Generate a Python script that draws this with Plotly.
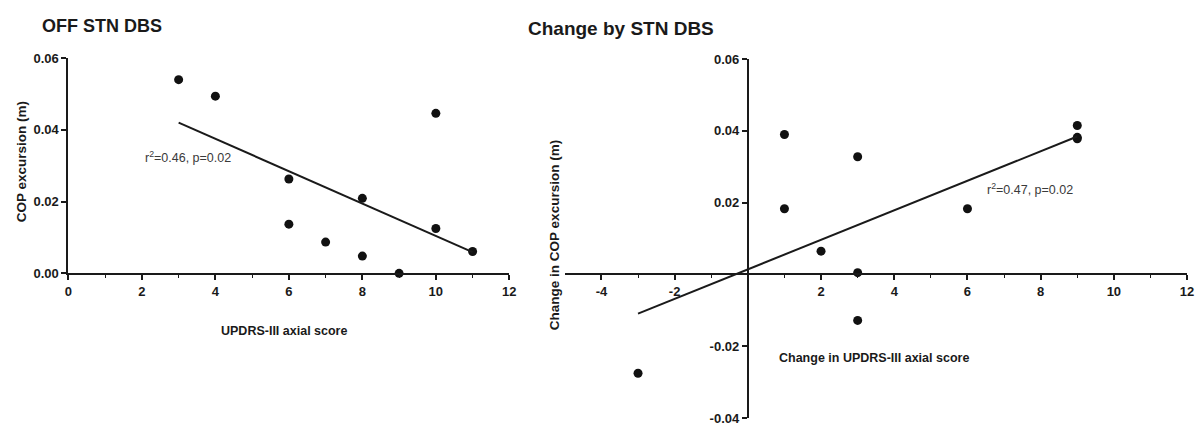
import numpy as np
import plotly.graph_objects as go

W, H = 1203, 428

# ---- data ----
off_updrs = [3, 4, 6, 6, 7, 8, 8, 9, 10, 10, 11]
off_cop = [0.0540, 0.0494, 0.0263, 0.0137, 0.0087, 0.0209, 0.0048, 0.0000, 0.0446, 0.0125, 0.0061]

chg_updrs = [-3, 1, 1, 2, 3, 3, 3, 6, 9, 9, 9]
chg_cop = [-0.0275, 0.0390, 0.0183, 0.0065, 0.0328, 0.0005, -0.0128, 0.0183, 0.0415, 0.0382, 0.0378]

left_xticks = [0, 2, 4, 6, 8, 10, 12]
left_xminor = [1, 3, 5, 7, 9, 11]
left_yticks = [0.00, 0.02, 0.04, 0.06]
right_xticks = [-4, -2, 2, 4, 6, 8, 10, 12]
right_xminor = [-3, -1, 1, 3, 5, 7, 9, 11]
right_yticks = [-0.04, -0.02, 0.02, 0.04, 0.06]

left_stats = "r<sup>2</sup>=0.46, p=0.02"
right_stats = "r<sup>2</sup>=0.47, p=0.02"


def px(x):
    return x / W


def py(y):
    return 1 - y / H


INK = "#1a1a1a"
FONT = "Liberation Sans, Arial, sans-serif"


def fit_line(xs, ys):
    xs = np.asarray(xs, float)
    ys = np.asarray(ys, float)
    m, b = np.polyfit(xs, ys, 1)
    xl = np.array([xs.min(), xs.max()])
    return xl, m * xl + b


fig = go.Figure()

marker = dict(size=9, color="#111111")

# left panel
fig.add_trace(go.Scatter(x=off_updrs, y=off_cop, mode="markers", marker=marker,
                         xaxis="x", yaxis="y", cliponaxis=False, showlegend=False))
lx, ly = fit_line(off_updrs, off_cop)
fig.add_trace(go.Scatter(x=lx, y=ly, mode="lines", line=dict(color=INK, width=2),
                         xaxis="x", yaxis="y", cliponaxis=False, showlegend=False))

# right panel
fig.add_trace(go.Scatter(x=chg_updrs, y=chg_cop, mode="markers", marker=marker,
                         xaxis="x2", yaxis="y2", cliponaxis=False, showlegend=False))
rx, ry = fit_line(chg_updrs, chg_cop)
fig.add_trace(go.Scatter(x=rx, y=ry, mode="lines", line=dict(color=INK, width=2),
                         xaxis="x2", yaxis="y2", cliponaxis=False, showlegend=False))

tickfont = dict(family=FONT, size=13, color=INK)
common = dict(showgrid=False, zeroline=False, showline=True, linecolor=INK, linewidth=2,
              ticks="outside", ticklen=5, tickwidth=1.6, tickcolor=INK, tickfont=tickfont,
              fixedrange=True)
minor = lambda vals: dict(tickmode="array", tickvals=vals, ticks="outside", ticklen=3,
                          tickwidth=1.4, tickcolor=INK, showgrid=False)
b = lambda s: f"<b>{s}</b>"

fig.update_layout(
    width=W, height=H,
    margin=dict(l=0, r=0, t=0, b=0),
    paper_bgcolor="white", plot_bgcolor="white",
    showlegend=False,
    xaxis=dict(domain=[px(65), px(510)], range=[0, 12], anchor="y",
               tickmode="array", tickvals=left_xticks,
               ticktext=[b(v) for v in left_xticks], minor=minor(left_xminor), **common),
    yaxis=dict(domain=[py(276), py(53)], range=[0, 0.06], anchor="x",
               tickmode="array", tickvals=left_yticks,
               ticktext=[b(f"{v:.2f}") for v in left_yticks], **common),
    xaxis2=dict(domain=[px(566), px(1194)], range=[-5, 12], anchor="free", position=py(277),
                tickmode="array", tickvals=right_xticks,
                ticktext=[b(v) for v in right_xticks], minor=minor(right_xminor), **common),
    yaxis2=dict(domain=[py(426), py(54)], range=[-0.04, 0.06], anchor="free", position=px(750.7),
                tickmode="array", tickvals=right_yticks,
                ticktext=[b(f"{v:.2f}") for v in right_yticks], **common),
)

ann = []
statfont = dict(family=FONT, size=12.5, color="#3a3a3a")


def f(size):
    return dict(family=FONT, size=size, color=INK)


ann.append(dict(text=b("OFF STN DBS"), x=px(36), y=py(20), xref="paper", yref="paper",
                xanchor="left", yanchor="middle", showarrow=False, font=f(18)))
ann.append(dict(text=b("Change by STN DBS"), x=px(527), y=py(22), xref="paper", yref="paper",
                xanchor="left", yanchor="middle", showarrow=False, font=f(19)))
ann.append(dict(text=b("UPDRS-III axial score"), x=px(283), y=py(336), xref="paper", yref="paper",
                xanchor="center", yanchor="middle", showarrow=False, font=f(12.5)))
ann.append(dict(text=b("COP excursion (m)"), x=px(18), y=py(160), xref="paper", yref="paper",
                xanchor="center", yanchor="middle", textangle=-90, showarrow=False, font=f(13.5)))
ann.append(dict(text=b("Change in COP excursion (m)"), x=px(555.5), y=py(236), xref="paper", yref="paper",
                xanchor="center", yanchor="middle", textangle=-90, showarrow=False, font=f(13.5)))
ann.append(dict(text=b("Change in UPDRS-III axial score"), x=px(878), y=py(364), xref="paper", yref="paper",
                xanchor="center", yanchor="middle", showarrow=False, font=f(12.5)))
ann.append(dict(text=left_stats, x=2.02, y=0.0323, xref="x", yref="y",
                xanchor="left", yanchor="middle", showarrow=False, font=statfont))
ann.append(dict(text=right_stats, x=6.48, y=0.0239, xref="x2", yref="y2",
                xanchor="left", yanchor="middle", showarrow=False, font=statfont))

fig.update_layout(annotations=ann)

fig.write_html("out.html")
